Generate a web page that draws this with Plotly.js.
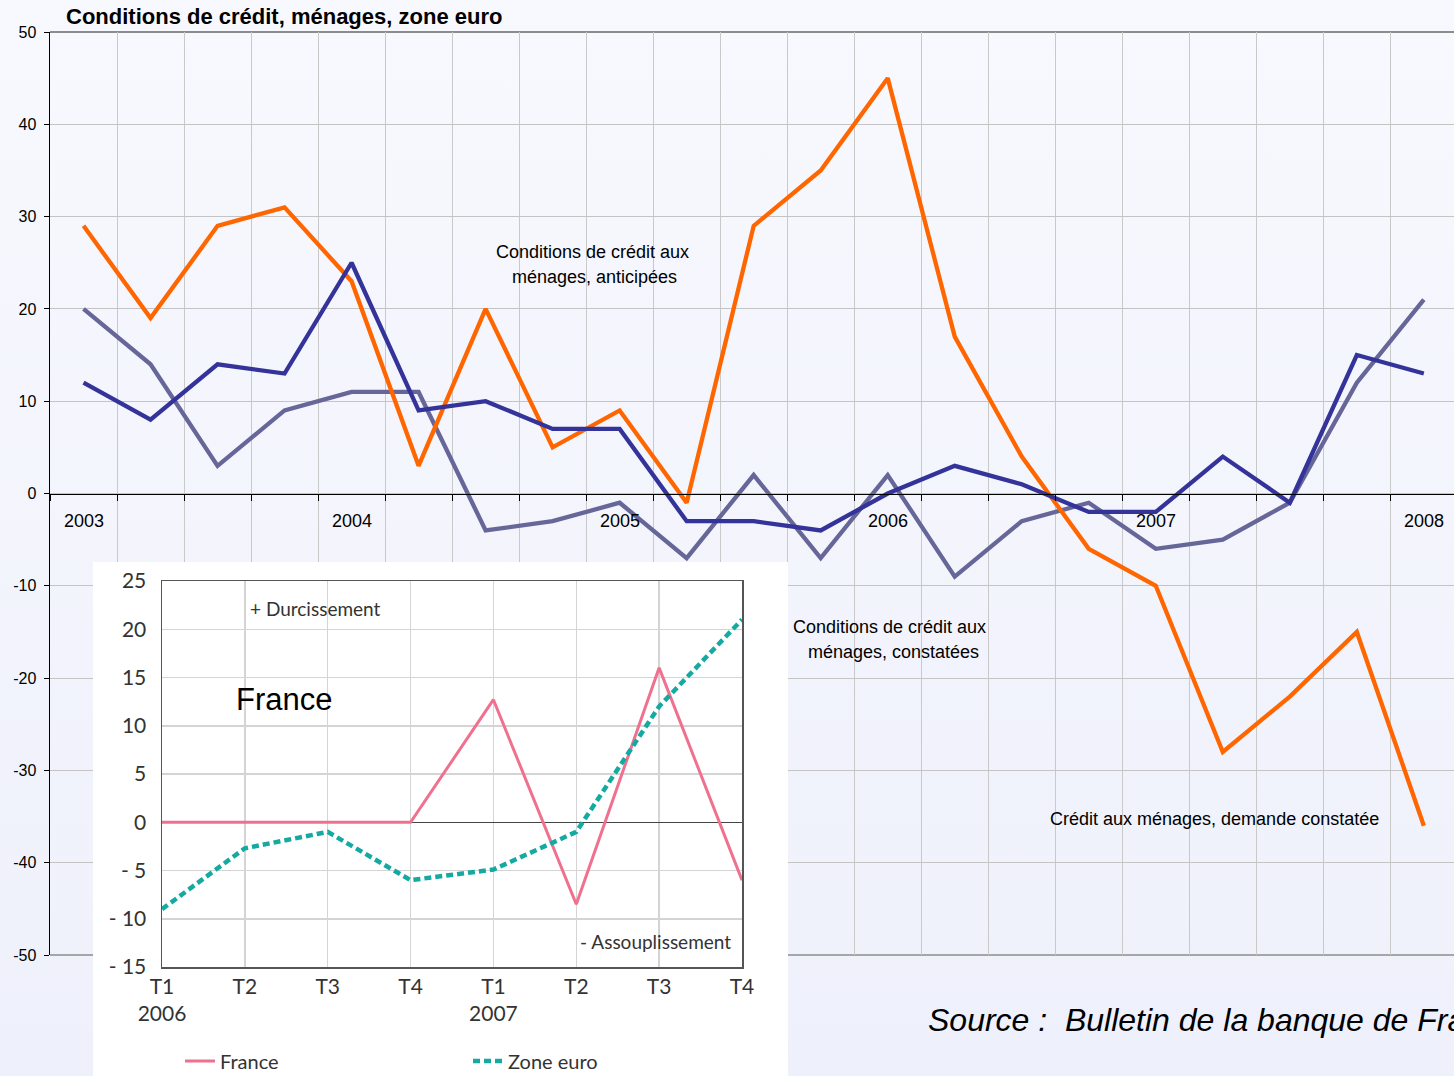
<!DOCTYPE html>
<html><head><meta charset="utf-8">
<script src="https://cdn.plot.ly/plotly-3.0.1.min.js"></script>
<style>
html,body{margin:0;padding:0;overflow:hidden;}
body{width:1454px;height:1076px;background:linear-gradient(#f8f9fe,#eef0fb);position:relative;}
#main{position:absolute;left:0;top:0;width:1454px;height:1076px;}
#inset{position:absolute;left:93px;top:562px;width:695px;height:514px;}
</style></head><body>
<div id="main"></div><div id="inset"></div>
<script>
// ---------- main chart data ----------
const quarters = ['2003T1','2003T2','2003T3','2003T4','2004T1','2004T2','2004T3','2004T4',
  '2005T1','2005T2','2005T3','2005T4','2006T1','2006T2','2006T3','2006T4',
  '2007T1','2007T2','2007T3','2007T4','2008T1'];
const yearLabels = ['2003','2004','2005','2006','2007','2008'];
const yearQuarters = ['2003T1','2004T1','2005T1','2006T1','2007T1','2008T1'];
const demandeConstatee = [29,19,29,31,23,3,20,5,9,-1,29,35,45,17,4,-6,-10,-28,-22,-15,-36];
const conditionsAnticipees = [12,8,14,13,25,9,10,7,7,-3,-3,-4,0,3,1,-2,-2,4,-1,15,13];
const conditionsConstatees = [20,14,3,9,11,11,-4,-3,-1,-7,2,-7,2,-9,-3,-1,-6,-5,-1,12,21];
const yTicks = [50,40,30,20,10,0,-10,-20,-30,-40,-50];

// ---------- inset data ----------
const insetQuarters = ['T1','T2','T3','T4','T1','T2','T3','T4'];
const insetYears = ['2006','','','','2007','','',''];
const franceValues = [0,0,0,0,12.7,-8.5,16,-6];
const zoneEuroValues = [-9,-2.7,-1,-6,-4.9,-1,12,21];
const insetYTicks = [25,20,15,10,5,0,-5,-10,-15];
const insetYTickText = ['25','20','15','10','5','0','- 5','- 10','- 15'];

const FONT = 'Liberation Sans, Arial, sans-serif';
const idx = quarters.map((q,i)=>i);
const boundaries = quarters.map((q,i)=>i-0.5).concat([quarters.length-0.5]);

const mainTraces = [
  {x: idx, y: conditionsConstatees, type:'scatter', mode:'lines', name:'Conditions constatées',
   line:{color:'#666699', width:4.3}, cliponaxis:false, hoverinfo:'skip'},
  {x: idx, y: demandeConstatee, type:'scatter', mode:'lines', name:'Demande constatée',
   line:{color:'#ff6600', width:4.3}, cliponaxis:false, hoverinfo:'skip'},
  {x: idx, y: conditionsAnticipees, type:'scatter', mode:'lines', name:'Conditions anticipées',
   line:{color:'#333399', width:4.3}, cliponaxis:false, hoverinfo:'skip'}
];

const plotL = 50, plotT = 32, plotW = 1404, plotH = 923;
const annFont = {family: FONT, size: 18, color:'#000'};
const mainAnnotations = yearLabels.map((y,i)=>({
  x: quarters.indexOf(yearQuarters[i]), y: 0, xref:'x', yref:'y', text: y, showarrow:false,
  yshift:-27, font: annFont
})).concat([
  {x:7.59, y:26.2, xref:'x', yref:'y', text:'Conditions de crédit aux', showarrow:false, font:annFont},
  {x:7.62, y:23.5, xref:'x', yref:'y', text:'ménages, anticipées', showarrow:false, font:annFont},
  {x:12.03, y:-14.5, xref:'x', yref:'y', text:'Conditions de crédit aux', showarrow:false, font:annFont},
  {x:12.09, y:-17.2, xref:'x', yref:'y', text:'ménages, constatées', showarrow:false, font:annFont},
  {x:16.87, y:-35.3, xref:'x', yref:'y', text:'Crédit aux ménages, demande constatée', showarrow:false, font:annFont},
  {x:(926-plotL)/plotW, y:(plotT+plotH-1020)/plotH, xref:'paper', yref:'paper', xanchor:'left', yanchor:'middle',
   text:'<i>Source :&nbsp; Bulletin de la banque de France</i>', showarrow:false,
   font:{family:FONT, size:32, color:'#000'}}
]);

const mainLayout = {
  width:1454, height:1076,
  margin:{l:50, r:0, t:32, b:121, pad:0},
  paper_bgcolor:'rgba(0,0,0,0)', plot_bgcolor:'rgba(0,0,0,0)',
  showlegend:false,
  title:{text:'<b>Conditions de crédit, ménages, zone euro</b>', x:66/1454, xanchor:'left',
    y:1-16/1076, yanchor:'middle', font:{family:FONT, size:22, color:'#000'}},
  xaxis:{range:[-0.5,20.45], tickmode:'array', tickvals:boundaries, ticktext:boundaries.map(()=>''),
    showgrid:true, gridcolor:'#c9c9c9', gridwidth:1, ticks:'outside', ticklen:6, tickcolor:'#000',
    tickwidth:1, showline:true, linecolor:'#000', linewidth:1.5, anchor:'free', position:0.5,
    zeroline:false, fixedrange:true},
  yaxis:{range:[-50,50], tickmode:'array', tickvals:yTicks, ticktext:yTicks.map(String),
    ticks:'outside', ticklen:5, tickcolor:'#000', showline:true, linecolor:'#000', linewidth:1.5,
    showgrid:true, gridcolor:'#c4c4c4', gridwidth:1, zeroline:false, ticklabelstandoff:4,
    tickfont:{family:FONT, size:16, color:'#000'}, fixedrange:true},
  shapes:[
    {type:'line', xref:'paper', yref:'paper', x0:0, x1:1, y0:1, y1:1, line:{color:'#8c8c8c', width:2}, layer:'below'},
    {type:'line', xref:'paper', yref:'paper', x0:0, x1:1, y0:0, y1:0, line:{color:'#8c8c8c', width:1.5}, layer:'below'}
  ],
  annotations: mainAnnotations
};

Plotly.newPlot('main', mainTraces, mainLayout, {staticPlot:true});

// ---------- inset ----------
const insetIdx = insetQuarters.map((q,i)=>i);
const insetTickText = insetQuarters.map((q,i)=> insetYears[i] ? q+'<br>'+insetYears[i] : q);
const INSET_FONT = 'Lato, Open Sans, sans-serif';
const legFont = {family:INSET_FONT, size:20, color:'#333'};
const insetTraces = [
  {x: insetIdx, y: franceValues, type:'scatter', mode:'lines', name:'France', legend:'legend',
   line:{color:'#f0708f', width:3}, cliponaxis:false, hoverinfo:'skip'},
  {x: insetIdx, y: zoneEuroValues, type:'scatter', mode:'lines', name:'Zone euro', legend:'legend2',
   line:{color:'#14aaa2', width:4.5, dash:'7px,4px'}, cliponaxis:false, hoverinfo:'skip'}
];
const insetLayout = {
  width:695, height:514,
  margin:{l:69, r:46, t:19, b:109, pad:0},
  paper_bgcolor:'#ffffff', plot_bgcolor:'#ffffff',
  xaxis:{range:[0,7], tickmode:'array', tickvals:insetIdx, ticktext:insetTickText,
    showgrid:true, gridcolor:'#d4d4d4', gridwidth:1.5, showline:true, mirror:true, linecolor:'#555',
    linewidth:1.5, ticks:'', zeroline:false, tickfont:{family:INSET_FONT, size:21, color:'#333'},
    fixedrange:true},
  yaxis:{range:[-15,25], tickmode:'array', tickvals:insetYTicks, ticktext:insetYTickText,
    showgrid:true, gridcolor:'#d4d4d4', gridwidth:1.5, showline:true, mirror:true, linecolor:'#555',
    linewidth:1.5, ticks:'', zeroline:true, zerolinecolor:'#444', zerolinewidth:1.2,
    ticklabelstandoff:10, tickfont:{family:INSET_FONT, size:21, color:'#333'}, fixedrange:true},
  showlegend:true,
  legend:{orientation:'h', x:(180-93)/695, xref:'container', xanchor:'left',
    y:1-(1061-562)/514, yref:'container', yanchor:'middle', font:legFont, bgcolor:'rgba(0,0,0,0)'},
  legend2:{orientation:'h', x:(468-93)/695, xref:'container', xanchor:'left',
    y:1-(1061-562)/514, yref:'container', yanchor:'middle', font:legFont, bgcolor:'rgba(0,0,0,0)'},
  annotations:[
    {x:1.04, y:22.15, xref:'x', yref:'y', xanchor:'left', yanchor:'middle', text:'+ Durcissement',
     showarrow:false, font:{family:INSET_FONT, size:19, color:'#333'}},
    {x:0.87, y:12.7, xref:'x', yref:'y', xanchor:'left', yanchor:'middle', text:'France',
     showarrow:false, font:{family:FONT, size:31, color:'#000'}},
    {x:6.89, y:-12.4, xref:'x', yref:'y', xanchor:'right', yanchor:'middle', text:'- Assouplissement',
     showarrow:false, font:{family:INSET_FONT, size:19, color:'#333'}}
  ]
};
Plotly.newPlot('inset', insetTraces, insetLayout, {staticPlot:true});
</script>
</body></html>
